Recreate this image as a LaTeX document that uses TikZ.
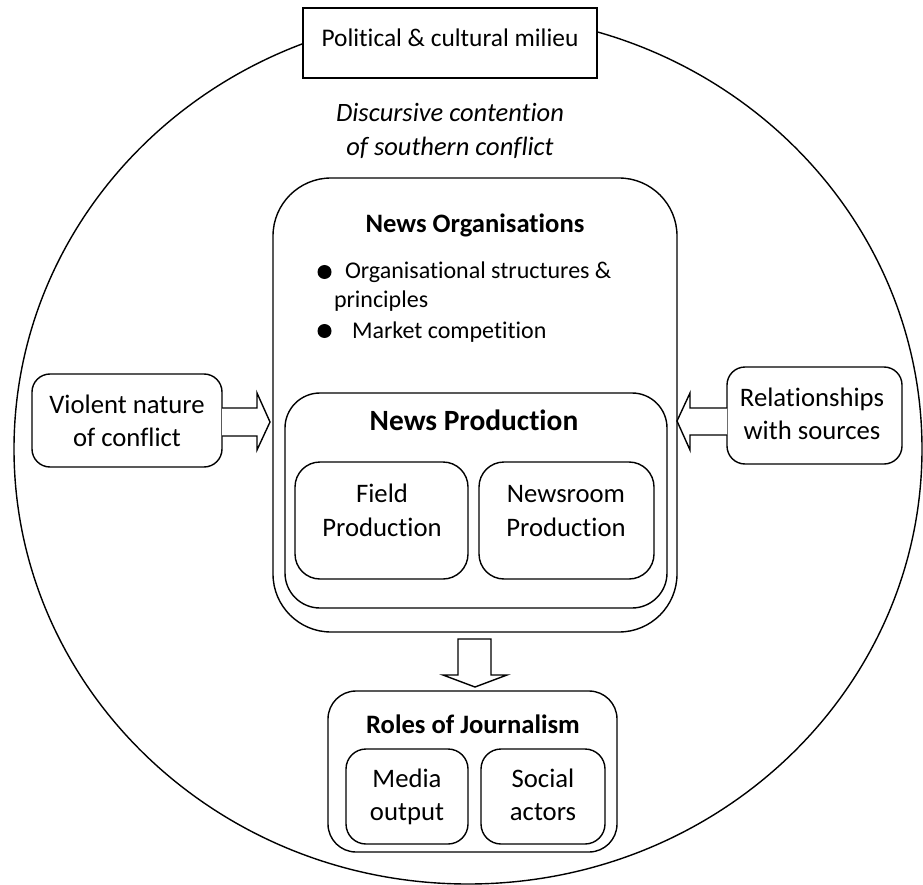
\documentclass[tikz,border=0pt]{standalone}
\usepackage{fontspec}
\setmainfont{Carlito}[Ligatures=NoCommon]
\usetikzlibrary{shapes.geometric}
\begin{document}
\begin{tikzpicture}[x=1pt,y=-1pt,
  every node/.style={inner sep=0pt, outer sep=0pt},
  lw/.style={line width=1.4pt},
  rbox/.style={draw, lw, rectangle, rounded corners=#1},
  sbox/.style={draw, lw, rectangle, fill=white},
  txt/.style={anchor=base, font=\fontsize{26.7}{30}\selectfont},
  ptxt/.style={anchor=base, font=\fontsize{25.4}{30}\selectfont},
  btxt/.style={anchor=base west, font=\fontsize{24}{28}\selectfont},
  itxt/.style={anchor=base, font=\fontsize{26.5}{30}\selectfont\itshape},
  title/.style={anchor=base, font=\fontsize{26.6}{30}\selectfont\bfseries},
  bigtitle/.style={anchor=base, font=\fontsize{29.4}{34}\selectfont\bfseries},
  bullet/.style={circle, fill=black, minimum size=14pt},
  barrow/.style={draw, lw, fill=white, line join=miter}]
\useasboundingbox (0,0) rectangle (923,885);

% outer ellipse
\node[draw, lw, ellipse, minimum width=908pt, minimum height=870pt] (env) at (468,449) {};

% top box
\node[sbox, minimum width=294pt, minimum height=70pt] (pol) at (450,43) {};
\node[ptxt] (poltxt) at (450,47) {Political \& cultural milieu};

% italic text
\node[itxt] (disc1) at (450,122) {Discursive contention};
\node[itxt] (disc2) at (450,156) {of southern conflict};

% News organisations
\node[rbox=58pt, minimum width=404pt, minimum height=454pt] (org) at (475,405) {};
\node[title] (orgt) at (475,233) {News Organisations};
\node[bullet] (b1) at (324.5,272) {};
\node[btxt] (b1t) at (345,279) {Organisational structures \&};
\node[btxt] (b1u) at (334,307) {principles};
\node[bullet] (b2) at (324.5,331) {};
\node[btxt] (b2t) at (352,338) {Market competition};

% News production
\node[rbox=35pt, minimum width=382pt, minimum height=215pt] (prod) at (476,500.5) {};
\node[bigtitle] (prodt) at (474,430) {News Production};
\node[rbox=25pt, minimum width=173pt, minimum height=117pt] (field) at (381.5,520.5) {};
\node[txt] (field1) at (382,502) {Field};
\node[txt] (field2) at (382,536) {Production};
\node[rbox=25pt, minimum width=175pt, minimum height=117pt] (newsroom) at (566.5,520.5) {};
\node[txt] (nr1) at (566,502) {Newsroom};
\node[txt] (nr2) at (566,536) {Production};

% side boxes
\node[rbox=18pt, minimum width=190pt, minimum height=93pt] (viol) at (127,420.5) {};
\node[txt] (viol1) at (127,413) {Violent nature};
\node[txt] (viol2) at (127,446) {of conflict};
\node[rbox=18pt, minimum width=175pt, minimum height=97pt] (rel) at (814.5,415.5) {};
\node[txt] (rel1) at (812,406) {Relationships};
\node[txt] (rel2) at (812,439) {with sources};

% roles
\node[rbox=28pt, minimum width=289pt, minimum height=161pt] (roles) at (472.5,771.5) {};
\node[title] (rolest) at (473,733) {Roles of Journalism};
\node[rbox=20pt, minimum width=122pt, minimum height=95pt] (media) at (407,796.5) {};
\node[txt] (media1) at (407,787) {Media};
\node[txt] (media2) at (407,820) {output};
\node[rbox=20pt, minimum width=124pt, minimum height=95pt] (social) at (543,796.5) {};
\node[txt] (social1) at (543,787) {Social};
\node[txt] (social2) at (543,820) {actors};

% block arrows
\draw[barrow] (viol.east |- 0,408) -- (257,408) -- (257,393) -- (270,422) -- (257,450) -- (257,436) -- (viol.east |- 0,436);
\draw[barrow] (rel.west |- 0,408) -- (690,408) -- (690,393) -- (677,421) -- (690,450) -- (690,435) -- (rel.west |- 0,435);
\draw[barrow] (458,639) -- (491,639) -- (491,675) -- (507,675) -- (475,687) -- (443,675) -- (458,675) -- cycle;
\end{tikzpicture}
\end{document}
